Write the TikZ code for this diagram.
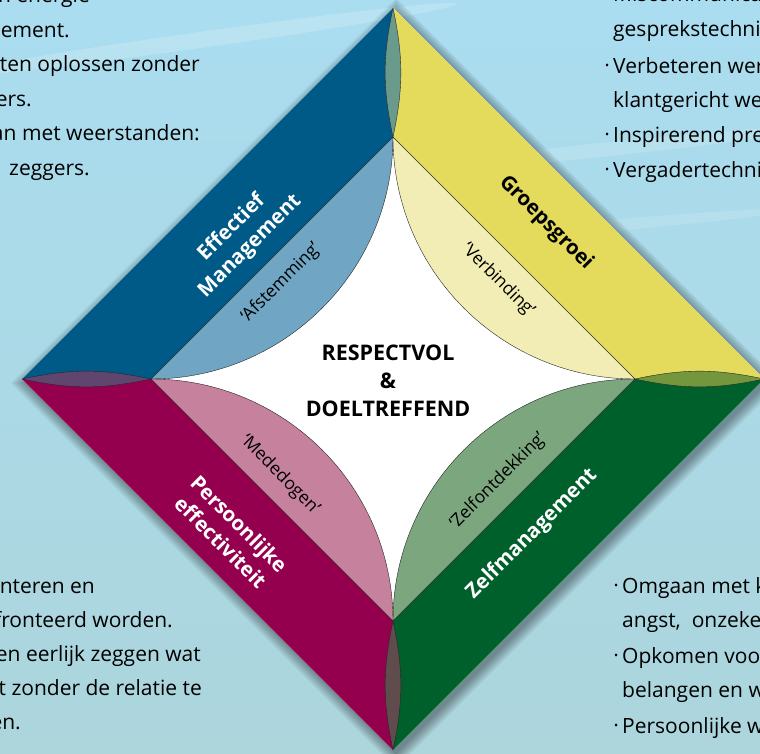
\documentclass[tikz,border=0pt]{standalone}
\usepackage{fontspec}
\setmainfont{Open Sans}
\usetikzlibrary{calc}
\definecolor{bgtop}{RGB}{170,221,240}
\definecolor{bgbot}{RGB}{172,213,220}
\definecolor{mblue}{RGB}{0,90,136}
\definecolor{lblue}{RGB}{112,166,196}
\definecolor{myellow}{RGB}{228,219,92}
\definecolor{lyellow}{RGB}{242,237,180}
\definecolor{mgreen}{RGB}{0,96,44}
\definecolor{lgreen}{RGB}{123,166,126}
\definecolor{mred}{RGB}{148,0,78}
\definecolor{lred}{RGB}{198,129,157}
\definecolor{toplens}{RGB}{106,154,140}
\definecolor{rightlens}{RGB}{116,150,60}
\definecolor{bottomlens}{RGB}{96,75,77}
\definecolor{leftlens}{RGB}{96,70,110}
\newcommand{\bul}{\llap{\raisebox{0.3ex}{\fontsize{11}{11}\selectfont •}\hspace{4pt}}}
\tikzset{
  edge/.style={draw=black!85, line width=0.4pt},
  inner/.style={edge},
  cornerlens/.style={edge},
  title/.style={font=\bfseries\fontsize{20.5}{26}\selectfont, align=center, inner sep=0pt},
  quality/.style={font=\fontsize{17.5}{19}\selectfont, inner sep=0pt},
  centre/.style={font=\bfseries\fontsize{21.5}{28}\selectfont, align=center},
  bodyl/.style={font=\fontsize{21}{24}\selectfont, anchor=base east, inner sep=0pt},
  bodyr/.style={font=\fontsize{21}{24}\selectfont, anchor=base west, inner sep=0pt},
}
\begin{document}
\begin{tikzpicture}[x=1pt, y=1pt]
  \useasboundingbox (0,0) rectangle (760,-753);
  \clip (0,0) rectangle (760,-753);
  \shade[top color=bgtop, bottom color=bgbot] (0,0) rectangle (760,-753);
  % faint streaks in the background
  \fill[white, opacity=0.18, rotate around={8:(200,-40)}] (200,-40) ellipse (260 and 8);
  \fill[white, opacity=0.15, rotate around={6:(600,-150)}] (600,-150) ellipse (220 and 7);
  \fill[white, opacity=0.12, rotate around={5:(560,-230)}] (560,-230) ellipse (240 and 6);

  % text round the diamond
  \node[bodyl] (tl1) at (90,-2.5) {n energie};
  \node[bodyl] (tl2) at (70,-37) {ement.};
  \node[bodyl] (tl3) at (200,-71.5) {tten oplossen zonder};
  \node[bodyl] (tl4) at (32,-106) {ers.};
  \node[bodyl] (tl5) at (200,-140.5) {an met weerstanden:};
  \node[bodyl] (tl6) at (90,-175) {zeggers.};

  \node[bodyr] (tr1) at (613,-1.5) {Miscommunica};
  \node[bodyr] (tr2) at (613,-36) {gesprekstechni};
  \node[bodyr] (tr3) at (613,-73) {\bul Verbeteren wer};
  \node[bodyr] (tr4) at (613,-107) {klantgericht we};
  \node[bodyr] (tr5) at (613,-142) {\bul Inspirerend pre};
  \node[bodyr] (tr6) at (613,-177) {\bul Vergadertechni};

  \node[bodyl] (bl1) at (95,-593) {onteren en};
  \node[bodyl] (bl2) at (173,-627) {fronteerd worden.};
  \node[bodyl] (bl3) at (201,-661) {en eerlijk zeggen wat};
  \node[bodyl] (bl4) at (202,-695) {t zonder de relatie te};
  \node[bodyl] (bl5) at (21,-729) {en.};

  \node[bodyr] (br1) at (622,-593) {\bul Omgaan met k};
  \node[bodyr] (br2) at (622,-627) {angst,\ \ onzeke};
  \node[bodyr] (br3) at (622,-663) {\bul Opkomen voo};
  \node[bodyr] (br4) at (622,-697) {belangen en w};
  \node[bodyr] (br5) at (622,-733) {\bul Persoonlijke w};

  \begin{scope}[shift={(393,-379)}]
    \coordinate (T) at (0,371);
    \coordinate (L) at (-371,0);
    \coordinate (B) at (0,-371);
    \coordinate (R) at (371,0);
    \coordinate (t) at (0,242);
    \coordinate (l) at (-242,0);
    \coordinate (b) at (0,-242);
    \coordinate (r) at (242,0);

    % soft shadow
    \foreach \d in {0,2,...,14}
      \fill[black, opacity=0.05, shift={(3,-4)}] (0,371+\d) -- (371+\d,0) -- (0,-371-\d) -- (-371-\d,0) -- cycle;

    \fill[white] (T) -- (R) -- (B) -- (L) -- cycle;

    % bands
    \fill[mblue] (L) -- (T) -- (t) -- (l) -- cycle;
    \fill[myellow] (T) -- (R) -- (r) -- (t) -- cycle;
    \fill[mgreen] (R) -- (B) -- (b) -- (r) -- cycle;
    \fill[mred] (B) -- (L) -- (l) -- (b) -- cycle;

    % inner lenses
    \filldraw[inner, fill=lblue] (l) arc[start angle=-90, end angle=0, radius=242] -- cycle;
    \filldraw[inner, fill=lyellow] (t) arc[start angle=180, end angle=270, radius=242] -- cycle;
    \filldraw[inner, fill=lgreen] (r) arc[start angle=90, end angle=180, radius=242] -- cycle;
    \filldraw[inner, fill=lred] (b) arc[start angle=0, end angle=90, radius=242] -- cycle;

    % corner lenses
    \filldraw[cornerlens, fill=toplens] (T) to[bend left=12] (t) to[bend left=12] (T);
    \filldraw[cornerlens, fill=rightlens] (R) to[bend left=12] (r) to[bend left=12] (R);
    \filldraw[cornerlens, fill=bottomlens] (B) to[bend left=12] (b) to[bend left=12] (B);
    \filldraw[cornerlens, fill=leftlens] (L) to[bend left=12] (l) to[bend left=12] (L);

    % labels
    \node[title, white, rotate=45] (effman) at (-152,142) {Effectief\\Management};
    \node[quality, rotate=45] (afst) at (-112,96) {‘Afstemming’};
    \node[title, rotate=-45] (groep) at (153,156) {Groepsgroei};
    \node[quality, rotate=-45] (verb) at (105,99) {‘Verbinding’};
    \node[title, white, rotate=-45] (perseff) at (-163,-154) {Persoonlijke\\effectiviteit};
    \node[quality, rotate=-45] (mede) at (-113,-96) {‘Mededogen’};
    \node[title, white, rotate=45] (zelfman) at (139,-155) {Zelfmanagement};
    \node[quality, rotate=45] (zelfont) at (105,-102) {‘Zelfontdekking’};

    \node[centre] (core) at (-5,-2) {RESPECTVOL\\\&\\DOELTREFFEND};
  \end{scope}
\end{tikzpicture}
\end{document}
